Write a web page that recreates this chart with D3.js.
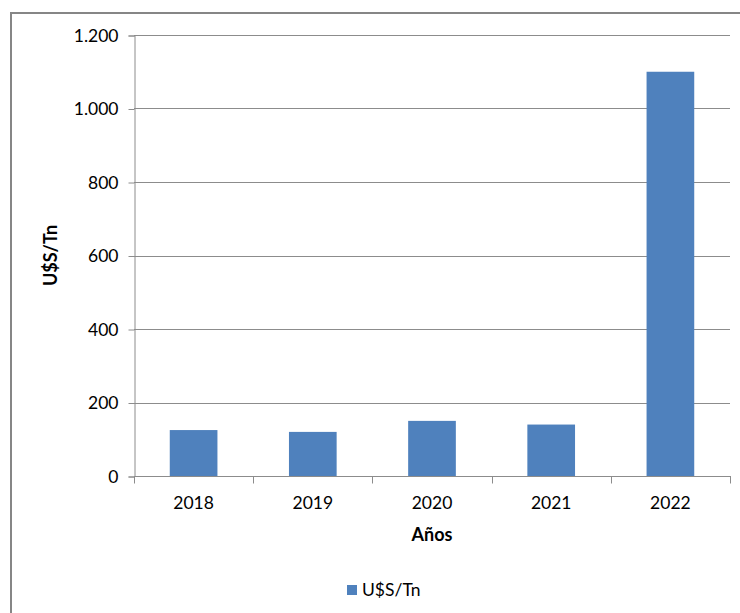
<!DOCTYPE html>
<html>
<head>
<meta charset="utf-8">
<script src="https://cdn.jsdelivr.net/npm/d3@7"></script>
<style>
  body { margin: 0; background: #fff; }
  text { font-family: Lato, "Open Sans", sans-serif; fill: #000; }
</style>
</head>
<body>
<script>
// values
var years = ['2018', '2019', '2020', '2021', '2022'];
var prices = [125, 120, 150, 140, 1100];
var yTicks = [0, 200, 400, 600, 800, 1000, 1200];
var seriesName = 'U$S/Tn';

var svg = d3.select('body').append('svg')
      .attr('width', 740)
      .attr('height', 613);

// outer frame, runs off the right and bottom
svg.append('rect')
  .attr('x', 11).attr('y', 13)
  .attr('width', 760).attr('height', 640)
  .attr('fill', 'none')
  .attr('stroke', '#868686')
  .attr('stroke-width', 2);

var plotLeft = 134, plotRight = 730, plotTop = 35, plotBottom = 476;

var x = d3.scaleBand().domain(years).range([plotLeft, plotRight]).paddingInner(0.6).paddingOuter(0.3);
var y = d3.scaleLinear().domain([0, 1200]).range([plotBottom, plotTop]);

var es = d3.formatLocale({decimal: ',', thousands: '.', grouping: [3], currency: ['$', '']});
var fmt = es.format(',d');

// gridlines
svg.append('g')
  .selectAll('line')
  .data(yTicks.slice(1))
  .enter()
  .append('line')
  .attr('x1', plotLeft).attr('x2', plotRight)
  .attr('y1', function(d) { return Math.round(y(d)) + 0.5; })
  .attr('y2', function(d) { return Math.round(y(d)) + 0.5; })
  .attr('stroke', '#8c8c8c')
  .attr('stroke-width', 1);

// bars
svg.append('g')
  .selectAll('rect')
  .data(prices)
  .enter()
  .append('rect')
  .attr('x', function(d, i) { return x(years[i]); })
  .attr('width', x.bandwidth())
  .attr('y', function(d) { return y(d); })
  .attr('height', function(d) { return y(0) - y(d); })
  .attr('fill', '#4f81bd');

// y axis
var yAxis = svg.append('g')
  .attr('transform', 'translate(' + (plotLeft + 0.5) + ',0.5)')
  .call(d3.axisLeft(y).tickValues(yTicks).tickFormat(fmt).tickSize(6).tickPadding(10));

// x axis: ticks at band edges
var edges = years.map(function(d) { return x(d) - x.step() * x.paddingInner() / 2; }).concat([plotRight]);
edges[0] = plotLeft;
var xAxis = svg.append('g')
  .attr('transform', 'translate(0,' + (plotBottom + 0.5) + ')');
xAxis.append('line')
  .attr('x1', plotLeft).attr('x2', plotRight + 1)
  .attr('stroke', '#8c8c8c');
xAxis.selectAll('.tk')
  .data(edges)
  .enter()
  .append('line')
  .attr('class', 'tk')
  .attr('x1', function(d) { return Math.round(d) + 0.5; })
  .attr('x2', function(d) { return Math.round(d) + 0.5; })
  .attr('y1', 0).attr('y2', 7)
  .attr('stroke', '#8c8c8c');
xAxis.selectAll('.lbl')
  .data(years)
  .enter()
  .append('text')
  .attr('class', 'lbl')
  .attr('x', function(d) { return x(d) + x.bandwidth() / 2; })
  .attr('y', 32)
  .attr('text-anchor', 'middle')
  .style('font-size', '17.5px')
  .text(function(d) { return d; });

yAxis.select('.domain').attr('stroke', '#8c8c8c');
yAxis.selectAll('.tick line').attr('stroke', '#8c8c8c');
yAxis.selectAll('.tick text').style('font-size', '17.5px').style('font-family', 'Lato, "Open Sans", sans-serif');

// axis titles
svg.append('text')
  .attr('transform', 'translate(57,' + ((plotTop + plotBottom) / 2) + ') rotate(-90)')
  .attr('text-anchor', 'middle')
  .style('font-size', '18px')
  .style('font-weight', 'bold')
  .text(seriesName);

svg.append('text')
  .attr('x', 432).attr('y', 541)
  .attr('text-anchor', 'middle')
  .style('font-size', '18px')
  .style('font-weight', 'bold')
  .text('Años');

// legend
svg.append('rect')
  .attr('x', 347).attr('y', 585)
  .attr('width', 10).attr('height', 10)
  .attr('fill', '#4f81bd');
svg.append('text')
  .attr('x', 362).attr('y', 596)
  .style('font-size', '17.5px')
  .text(seriesName);
</script>
</body>
</html>
